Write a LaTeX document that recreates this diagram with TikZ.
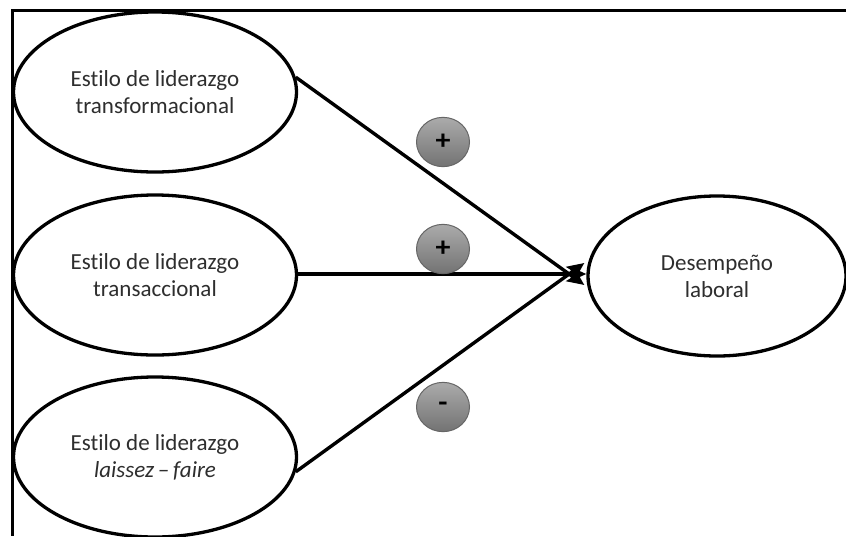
\documentclass[tikz,border=0pt]{standalone}
\usepackage{fontspec}
\setmainfont{Carlito}[Ligatures=NoCommon]
\usetikzlibrary{shapes.geometric,arrows.meta}
\begin{document}
\begin{tikzpicture}[x=1pt,y=-1pt,
  construct/.style={ellipse,draw=black,line width=3.3pt,fill=white,
    minimum width=283pt,minimum height=160pt,inner sep=0pt,
    align=center,text=black!82,font=\fontsize{23}{27}\selectfont},
  effect/.style={line width=3.4pt,draw=black,
    -{Stealth[length=17pt,width=15pt,inset=3pt]}},
  sign/.style={circle,draw=black!60,line width=1pt,
    top color=black!33,bottom color=black!55,
    minimum width=53pt,inner sep=0pt,yscale=0.93,
    font=\fontsize{30}{30}\bfseries\selectfont}
]
\useasboundingbox (0,0) rectangle (846,536);
\fill[white] (0,0) rectangle (846,536);
% frame (top and left edges)
\draw[line width=3.3pt] (846,10.5) -- (12.5,10.5) -- (12.5,536);

\node[construct] (tf) at (155,92) {Estilo de liderazgo\\transformacional};
\node[construct] (tc) at (155,275) {Estilo de liderazgo\\transaccional};
\node[construct] (lf) at (155,457) {Estilo de liderazgo\\\textit{laissez\,--\,faire}};
\node[construct,minimum width=258pt] (dl) at (717,276) {Desempeño\\laboral};

\coordinate (inA) at ([xshift=-2pt,yshift=-9pt]dl.west);
\coordinate (inB) at ([yshift=2pt]dl.west);
\coordinate (inC) at ([xshift=-2pt,yshift=13pt]dl.west);

\draw[effect] (tf.6) -- (inA);
\draw[effect] (tc.east |- inB) -- (inB);
\draw[effect] (lf.-6) -- (inC);

\node[sign] (s1) at (443,142) {+};
\node[sign] (s2) at (443,249) {+};
\node[sign] (s3) at (443,407) {-};
\end{tikzpicture}
\end{document}
